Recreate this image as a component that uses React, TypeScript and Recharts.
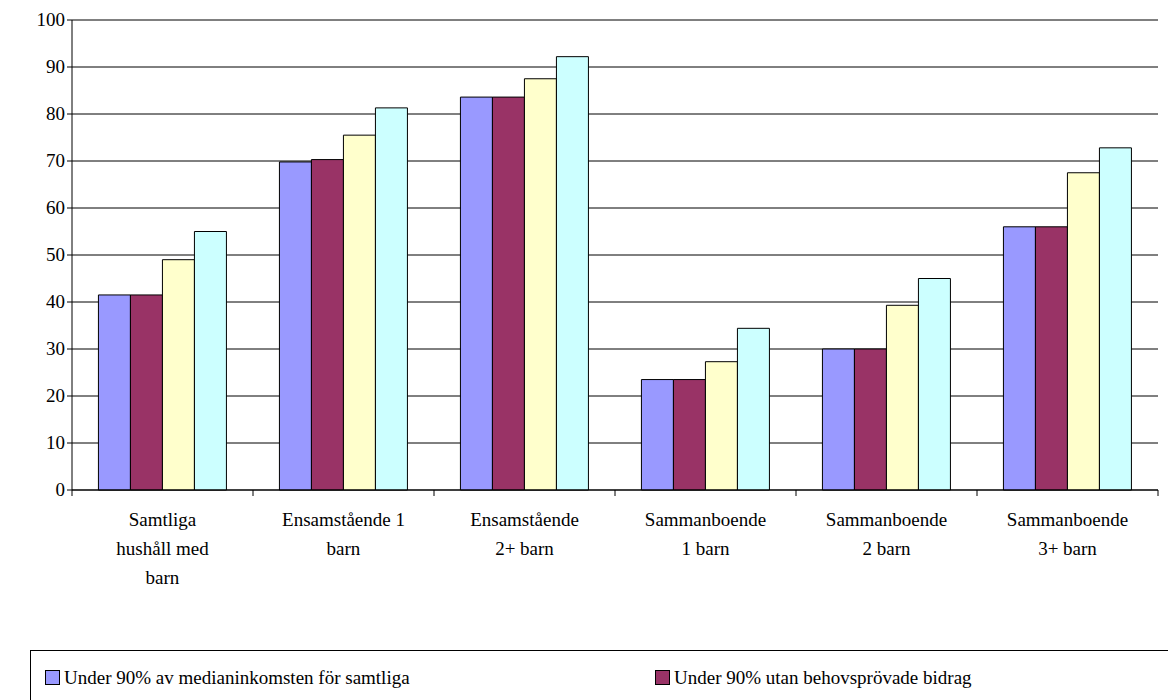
import { BarChart, Bar, XAxis, YAxis, CartesianGrid } from 'recharts';

const categories = [
    'Samtliga\nhushåll med\nbarn',
    'Ensamstående 1\nbarn',
    'Ensamstående\n2+ barn',
    'Sammanboende\n1 barn',
    'Sammanboende\n2 barn',
    'Sammanboende\n3+ barn',
];
const samtliga = [41.5, 69.8, 83.6, 23.5, 30, 56];
const utanBehov = [41.5, 70.3, 83.6, 23.5, 30, 56];
const utanGenerella = [49, 75.5, 87.5, 27.3, 39.3, 67.5];
const utanFamilj = [55, 81.3, 92.2, 34.4, 45, 72.8];
const yTicks = [0, 10, 20, 30, 40, 50, 60, 70, 80, 90, 100];

const series = [
    { key: 'a', name: 'Under 90% av medianinkomsten för samtliga', color: '#9999FF' },
    { key: 'b', name: 'Under 90% utan behovsprövade bidrag', color: '#993366' },
    { key: 'c', name: 'Under 90% utan generella och behovsprövade', color: '#FFFFCC' },
    { key: 'd', name: 'Under 90% utan ek. familjepolitik', color: '#CCFFFF' },
];

const data = categories.map((name, i) => ({
    name,
    a: samtliga[i],
    b: utanBehov[i],
    c: utanGenerella[i],
    d: utanFamilj[i],
}));

const W = 1168;
const H = 700;
const LEFT = 72;
const RIGHT = 10;
const band = (W - LEFT - RIGHT) / categories.length;
const font = 'Times New Roman, Liberation Serif, serif';

function CategoryTick({ x, y, payload, index }: any) {
    const lines = String(payload.value).split('\n');
    return (
        <g>
            <line x1={x - band / 2} x2={x - band / 2} y1={y - 8} y2={y - 2} stroke="#000" />
            {index === categories.length - 1 && (
                <line x1={x + band / 2} x2={x + band / 2} y1={y - 8} y2={y - 2} stroke="#000" />
            )}
            <text x={x} y={y + 28} textAnchor="middle" fill="#000" style={{ fontFamily: font, fontSize: 19 }}>
                {lines.map((l, i) => (
                    <tspan key={i} x={x} dy={i === 0 ? 0 : 29}>{l}</tspan>
                ))}
            </text>
        </g>
    );
}

function ValueTick({ x, y, payload }: any) {
    return (
        <text x={x} y={y} dy={6} textAnchor="end" fill="#000" style={{ fontFamily: font, fontSize: 19 }}>
            {payload.value}
        </text>
    );
}

export default function App() {
    return (
        <div style={{ position: 'absolute', left: 0, top: 0, width: W, height: H, background: '#fff', overflow: 'hidden', fontFamily: font }}>
            <BarChart
                width={W}
                height={H}
                data={data}
                margin={{ top: 20, right: RIGHT, left: 0, bottom: 90 }}
                barCategoryGap="14.6%"
                barGap={0}
            >
                <CartesianGrid vertical={false} stroke="#000" strokeWidth={1} />
                <XAxis
                    dataKey="name"
                    interval={0}
                    height={120}
                    tickLine={false}
                    axisLine={{ stroke: '#000' }}
                    tick={<CategoryTick />}
                />
                <YAxis
                    width={LEFT}
                    domain={[0, 100]}
                    ticks={yTicks}
                    tickSize={5}
                    tickLine={{ stroke: '#000' }}
                    axisLine={{ stroke: '#000' }}
                    tick={<ValueTick />}
                />
                {series.map((s) => (
                    <Bar key={s.key} dataKey={s.key} name={s.name} fill={s.color} stroke="#000" strokeWidth={1} isAnimationActive={false} />
                ))}
            </BarChart>
            <div
                style={{
                    position: 'absolute', left: 30, top: 650, width: 1140, height: 80,
                    border: '1px solid #000', boxSizing: 'border-box', fontSize: 19,
                    display: 'grid', gridTemplateColumns: '610px 500px', rowGap: 4, padding: '11px 0 0 14px',
                }}
            >
                {series.map((s) => (
                    <div key={s.key} style={{ display: 'flex', alignItems: 'center', gap: 4, lineHeight: '22px' }}>
                        <span style={{ width: 13, height: 13, background: s.color, border: '1px solid #000', display: 'inline-block' }} />
                        <span>{s.name}</span>
                    </div>
                ))}
            </div>
        </div>
    );
}
